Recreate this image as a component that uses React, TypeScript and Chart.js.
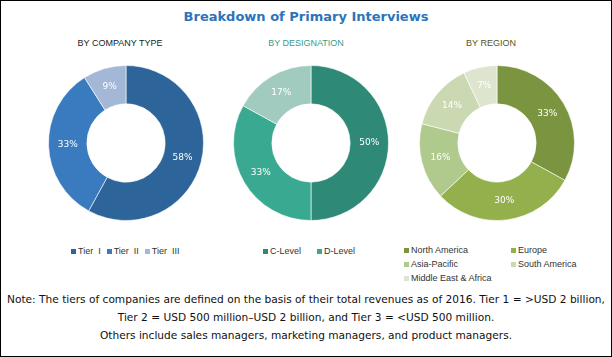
import React, { useEffect, useRef } from 'react';
import { Chart, registerables } from 'chart.js';

Chart.register(...registerables);

const titleText = 'Breakdown of Primary Interviews';

const companyTitle = 'BY COMPANY TYPE';
const companyLabels = ['Tier  I', 'Tier  II', 'Tier  III'];
const companyValues = [58, 33, 9];
const companyColors = ['#2d6499', '#3a7bbf', '#a3b7d7'];

const designationTitle = 'BY DESIGNATION';
const designationLabels = ['C-Level', 'D-Level', 'Others'];
const designationValues = [50, 33, 17];
const designationColors = ['#2e8a77', '#3aa991', '#a0cbbe'];
const designationLegendCount = 2;

const regionTitle = 'BY REGION';
const regionLabels = ['North America', 'Europe', 'Asia-Pacific', 'South America', 'Middle East & Africa'];
const regionValues = [33, 30, 16, 14, 7];
const regionColors = ['#7a943f', '#94b04c', '#b0c98d', '#cbd9b3', '#dee5ce'];

const noteLines = [
  'Note: The tiers of companies are defined on the basis of their total revenues as of 2016. Tier 1 = >USD 2 billion,',
  'Tier 2 = USD 500 million\u2013USD 2 billion, and Tier 3 = <USD 500 million.',
  'Others include sales managers, marketing managers, and product managers.',
];

const pctLabelPlugin = {
  id: 'pctLabels',
  afterDatasetsDraw(chart: any) {
    const ctx = chart.ctx;
    const meta = chart.getDatasetMeta(0);
    const data = chart.data.datasets[0].data;
    ctx.save();
    ctx.fillStyle = '#ffffff';
    ctx.font = '9px "DejaVu Sans"';
    ctx.textAlign = 'center';
    ctx.textBaseline = 'middle';
    meta.data.forEach((arc: any, i: number) => {
      const p = arc.getProps(['x', 'y', 'startAngle', 'endAngle', 'innerRadius', 'outerRadius']);
      const a = (p.startAngle + p.endAngle) / 2;
      const r = (p.innerRadius + p.outerRadius) / 2;
      ctx.fillText(data[i] + '%', p.x + Math.cos(a) * r, p.y + Math.sin(a) * r);
    });
    ctx.restore();
  },
};

const SIZE = 160;

function Donut(props: { labels: string[]; values: number[]; colors: string[]; cx: number; cy: number }) {
  const ref = useRef<HTMLCanvasElement>(null);
  useEffect(() => {
    if (!ref.current) return;
    const chart = new Chart(ref.current, {
      type: 'doughnut',
      data: {
        labels: props.labels,
        datasets: [
          {
            data: props.values,
            backgroundColor: props.colors,
            borderColor: 'rgba(255,255,255,0.6)',
            borderWidth: 1,
            hoverOffset: 0,
          },
        ],
      },
      options: {
        responsive: false,
        maintainAspectRatio: false,
        animation: false,
        cutout: '50.5%',
        layout: { padding: 2 },
        plugins: { legend: { display: false }, tooltip: { enabled: false } },
        events: [],
      },
      plugins: [pctLabelPlugin],
    });
    return () => chart.destroy();
  }, []);
  return (
    <canvas
      ref={ref}
      width={SIZE}
      height={SIZE}
      style={{ position: 'absolute', left: props.cx - SIZE / 2, top: props.cy - SIZE / 2, width: SIZE, height: SIZE }}
    />
  );
}

const legendText: React.CSSProperties = {
  fontFamily: '"Liberation Sans", Arial, sans-serif',
  fontSize: 9,
  color: '#333',
  whiteSpace: 'pre',
  lineHeight: '14px',
};

function LegendItem(props: { label: string; color: string; style?: React.CSSProperties }) {
  return (
    <div style={{ display: 'flex', alignItems: 'center', ...legendText, ...props.style }}>
      <span style={{ display: 'inline-block', width: 5, height: 5, background: props.color, marginRight: 2 }} />
      <span>{props.label}</span>
    </div>
  );
}

const subTitle = (color: string, cx: number): React.CSSProperties => ({
  position: 'absolute',
  left: cx - 100,
  width: 200,
  top: 35,
  textAlign: 'center',
  fontFamily: '"Liberation Sans", Arial, sans-serif',
  fontSize: 9,
  lineHeight: '14px',
  color,
});

export default function App() {
  return (
    <div
      style={{
        position: 'absolute',
        left: 0,
        top: 0,
        width: 612,
        height: 357,
        boxSizing: 'border-box',
        border: '1px solid #000',
        background: '#fff',
        overflow: 'hidden',
      }}
    >
      <div
        style={{
          position: 'absolute',
          left: 0,
          width: 610,
          top: 7,
          textAlign: 'center',
          fontFamily: '"DejaVu Sans", Verdana, sans-serif',
          fontWeight: 'bold',
          fontSize: 13,
          lineHeight: '18px',
          color: '#2b74b9',
        }}
      >
        {titleText}
      </div>
      <div style={subTitle('#222', 119)}>{companyTitle}</div>
      <div style={subTitle('#3a9a8a', 305)}>{designationTitle}</div>
      <div style={subTitle('#55552a', 490)}>{regionTitle}</div>

      <Donut labels={companyLabels} values={companyValues} colors={companyColors} cx={125} cy={142} />
      <Donut labels={designationLabels} values={designationValues} colors={designationColors} cx={310} cy={142} />
      <Donut labels={regionLabels} values={regionValues} colors={regionColors} cx={496} cy={142} />

      <div style={{ position: 'absolute', left: 70, top: 243, display: 'flex', gap: 6 }}>
        {companyLabels.map((l, i) => (
          <LegendItem key={l} label={l} color={companyColors[i]} />
        ))}
      </div>
      <div style={{ position: 'absolute', left: 262, top: 243, display: 'grid', gridTemplateColumns: '54px 54px' }}>
        {designationLabels.slice(0, designationLegendCount).map((l, i) => (
          <LegendItem key={l} label={l} color={designationColors[i]} />
        ))}
      </div>
      <div style={{ position: 'absolute', left: 403, top: 242, display: 'grid', gridTemplateColumns: '107px 100px' }}>
        {regionLabels.map((l, i) => (
          <LegendItem key={l} label={l} color={regionColors[i]} />
        ))}
      </div>

      <div
        style={{
          position: 'absolute',
          left: 0,
          width: 610,
          top: 289,
          textAlign: 'center',
          fontFamily: '"DejaVu Sans", sans-serif',
          fontSize: 10.6,
          lineHeight: '18px',
          color: '#111',
          whiteSpace: 'nowrap',
        }}
      >
        {noteLines.map((l) => (
          <div key={l}>{l}</div>
        ))}
      </div>
    </div>
  );
}
